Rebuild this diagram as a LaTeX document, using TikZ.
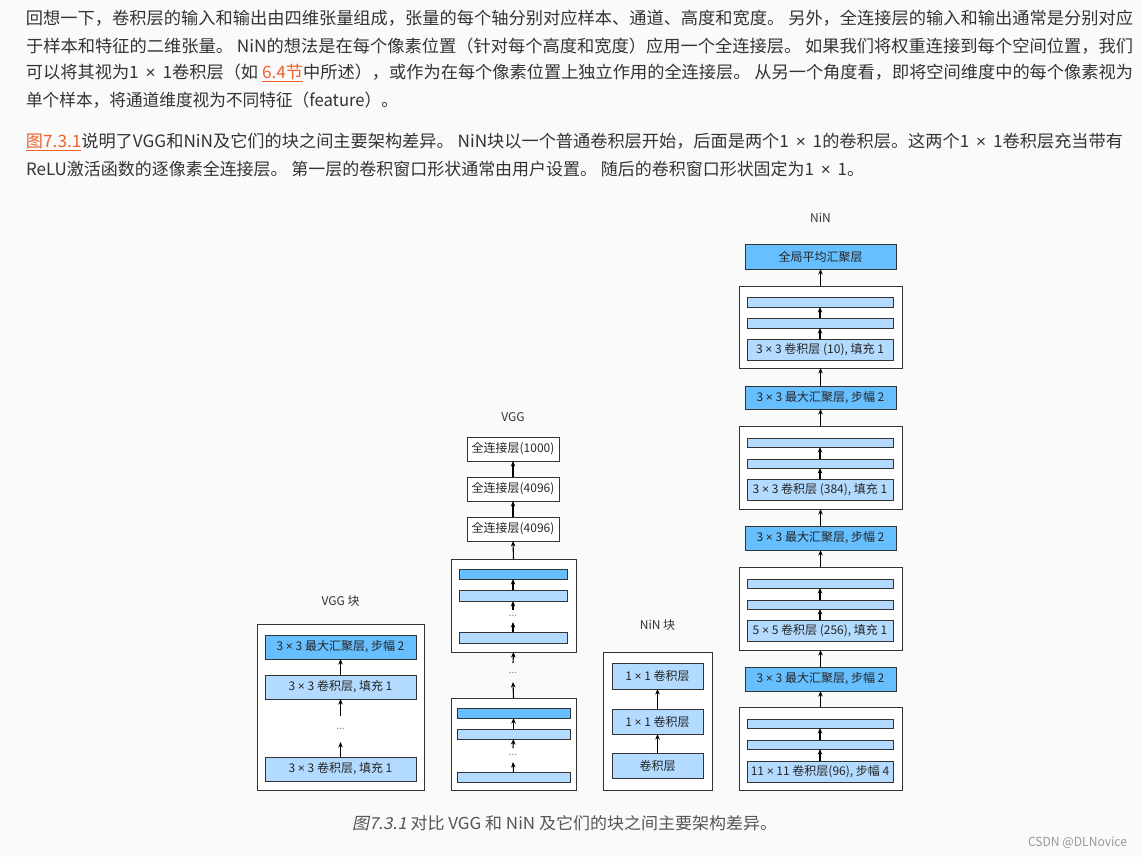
\documentclass[tikz,border=0pt]{standalone}
\usepackage{fontspec}
\setmainfont{Noto Sans CJK SC}
\newfontfamily\cjkit[FakeSlant=0.2]{Noto Sans CJK SC}
\newfontfamily\latf{Liberation Sans}
\newcommand\tm{{\latf ×}}
\newcommand\pt{1\hspace{0.4em}{\latf ×}\hspace{0.4em}1}
\usetikzlibrary{arrows.meta}
\definecolor{bg}{HTML}{FAFAFA}
\definecolor{txt}{HTML}{333333}
\definecolor{capc}{HTML}{555555}
\definecolor{lnk}{HTML}{F0602A}
\definecolor{dkb}{HTML}{66BFFF}
\definecolor{ltb}{HTML}{B3DAFF}
\definecolor{edge}{HTML}{333333}
\newsavebox\jbox
\newcommand\jline[2]{\sbox\jbox{#2}\pgfmathsetmacro\jsx{#1/\the\wd\jbox}\scalebox{\jsx}[1]{\usebox\jbox}}
\newcommand\lk[1]{\textcolor{lnk}{\underline{#1}}}
\newcommand\dgmfont{\fontsize{12}{14}\selectfont}
\newcommand\labfont{\fontsize{12}{14}\selectfont}
\newcommand\ptext{\fontsize{17}{20}\selectfont}
\newcommand\bx[7]{%
 \pgfmathsetmacro\bcx{(#3+#5)/2}\pgfmathsetmacro\bcy{(#4+#6)/2}%
 \pgfmathsetmacro\bw{#5-#3}\pgfmathsetmacro\bh{#6-#4}%
 \node[#2, minimum width=\bw pt, minimum height=\bh pt] (#1) at (\bcx,\bcy) {#7};}
\tikzset{
 every node/.style={inner sep=0pt, outer sep=0pt},
 dk/.style={draw=edge, line width=1pt, fill=dkb, font=\dgmfont, text=black!85},
 lt/.style={draw=edge, line width=1pt, fill=ltb, font=\dgmfont, text=black!85},
 fc/.style={draw=edge, line width=1pt, fill=white, font=\dgmfont, text=black!85},
 outer/.style={draw=edge, line width=1pt, fill=white},
 arr/.style={-{Stealth[length=5.5pt,width=4.5pt]}, line width=1.1pt, draw=black},
 dotn/.style={font=\fontsize{10}{10}\selectfont, text=gray},
 lab/.style={font=\labfont, text=txt},
 para/.style={anchor=west, font=\ptext, text=txt},
}
\begin{document}
\begin{tikzpicture}[x=1pt,y=-1pt]
\fill[bg] (0,0) rectangle (1142,857);
\useasboundingbox (0,0) rectangle (1142,857);
% paragraph 1
\node[para] (p1) at (26,18) {\jline{1107}{回想一下，卷积层的输入和输出由四维张量组成，张量的每个轴分别对应样本、通道、高度和宽度。 另外，全连接层的输入和输出通常是分别对应}};
\node[para] (p2) at (26,46) {\jline{1107}{于样本和特征的二维张量。 NiN的想法是在每个像素位置（针对每个高度和宽度）应用一个全连接层。 如果我们将权重连接到每个空间位置，我们}};
\node[para] (p3) at (26,73) {\jline{1107}{可以将其视为\pt 卷积层（如 \lk{6.4节}中所述），或作为在每个像素位置上独立作用的全连接层。 从另一个角度看，即将空间维度中的每个像素视为}};
\node[para] (p4) at (26,100) {\jline{372}{单个样本，将通道维度视为不同特征（feature）。}};
% paragraph 2
\node[para] (q1) at (26,142) {\jline{1097}{\lk{图7.3.1}说明了VGG和NiN及它们的块之间主要架构差异。 NiN块以一个普通卷积层开始，后面是两个\pt 的卷积层。这两个\pt 卷积层充当带有}};
\node[para] (q2) at (26,169) {\jline{838}{ReLU激活函数的逐像素全连接层。 第一层的卷积窗口形状通常由用户设置。 随后的卷积窗口形状固定为\pt 。}};

% ---------- VGG block ----------
\node[lab] (vlab) at (340.5,601) {VGG 块};
\bx{vo}{outer}{257}{624}{424}{790}{}
\bx{v3}{dk}{265}{635}{416}{659}{3 \tm{} 3 最大汇聚层, 步幅 2}
\bx{v2}{lt}{265}{675}{416}{699}{3 \tm{} 3 卷积层, 填充 1}
\bx{vd}{dotn}{330}{716}{351}{742}{...}
\bx{v1}{lt}{265}{757}{416}{781}{3 \tm{} 3 卷积层, 填充 1}
\draw[arr] (v1.north) -- (vd.south);
\draw[arr] (vd.north) -- (v2.south);
\draw[arr] (v2.north) -- (v3.south);

% ---------- VGG ----------
\node[lab] (glab) at (513,417) {VGG};
\bx{fc1}{fc}{467}{437}{559}{461}{全连接层(1000)}
\bx{fc2}{fc}{467}{477}{559}{501}{全连接层(4096)}
\bx{fc3}{fc}{467}{517}{559}{541}{全连接层(4096)}
\bx{ub}{outer}{451}{559}{576}{652}{}
\bx{ub1}{dk}{459}{569}{567}{579}{}
\bx{ub2}{lt}{459}{590}{567}{601}{}
\bx{ubd}{dotn}{503}{610}{523}{622}{...}
\bx{ub3}{lt}{459}{632}{567}{643}{}
\bx{md}{dotn}{503}{663}{523}{682}{...}
\bx{lb}{outer}{451}{698}{576}{790}{}
\bx{lb1}{dk}{457}{708}{570}{718}{}
\bx{lb2}{lt}{457}{729}{570}{739}{}
\bx{lbd}{dotn}{503}{748}{523}{762}{...}
\bx{lb3}{lt}{457}{772}{570}{782}{}
\draw[arr] (lb3.north) -- (lbd.south);
\draw[arr] (lbd.north) -- (lb2.south);
\draw[arr] (lb2.north) -- (lb1.south);
\draw[arr] (lb.north) -- (md.south);
\draw[arr] (md.north) -- (ub.south);
\draw[arr] (ub3.north) -- (ubd.south);
\draw[arr] (ubd.north) -- (ub2.south);
\draw[arr] (ub2.north) -- (ub1.south);
\draw[arr] (ub.north) -- (fc3.south);
\draw[arr] (fc3.north) -- (fc2.south);
\draw[arr] (fc2.north) -- (fc1.south);

% ---------- NiN block ----------
\node[lab] (nlab) at (657.5,625) {NiN 块};
\bx{no}{outer}{603}{652}{712}{790}{}
\bx{n1}{lt}{612}{663}{703}{689}{1 \tm{} 1 卷积层}
\bx{n2}{lt}{612}{709}{703}{734}{1 \tm{} 1 卷积层}
\bx{n3}{lt}{612}{753}{703}{778}{卷积层}
\draw[arr] (n3.north) -- (n2.south);
\draw[arr] (n2.north) -- (n1.south);

% ---------- NiN ----------
\node[lab] (nnlab) at (820.5,218) {NiN};
\bx{gap}{dk}{745}{244}{896}{269}{全局平均汇聚层}
\bx{b1}{outer}{739}{286}{902}{368}{}
\bx{b1a}{lt}{747}{297}{893}{307}{}
\bx{b1b}{lt}{747}{318}{893}{328}{}
\bx{b1c}{lt}{747}{339}{893}{360}{3 \tm{} 3 卷积层 (10), 填充 1}
\bx{mp1}{dk}{745}{386}{896}{409}{3 \tm{} 3 最大汇聚层, 步幅 2}
\bx{b2}{outer}{739}{426}{902}{509}{}
\bx{b2a}{lt}{747}{438}{893}{447}{}
\bx{b2b}{lt}{747}{459}{893}{468}{}
\bx{b2c}{lt}{747}{479}{893}{500}{3 \tm{} 3 卷积层 (384), 填充 1}
\bx{mp2}{dk}{745}{526}{896}{550}{3 \tm{} 3 最大汇聚层, 步幅 2}
\bx{b3}{outer}{739}{567}{902}{650}{}
\bx{b3a}{lt}{747}{579}{893}{588}{}
\bx{b3b}{lt}{747}{600}{893}{609}{}
\bx{b3c}{lt}{747}{620}{893}{641}{5 \tm{} 5 卷积层 (256), 填充 1}
\bx{mp3}{dk}{745}{667}{896}{691}{3 \tm{} 3 最大汇聚层, 步幅 2}
\bx{b4}{outer}{739}{707}{902}{790}{}
\bx{b4a}{lt}{747}{719}{893}{728}{}
\bx{b4b}{lt}{747}{740}{893}{749}{}
\bx{b4c}{lt}{747}{761}{893}{782}{11 \tm{} 11 卷积层(96), 步幅 4}
\foreach \b in {b1,b2,b3,b4}{
 \draw[arr] (\b c.north) -- (\b b.south);
 \draw[arr] (\b b.north) -- (\b a.south);
}
\draw[arr] (b4.north) -- (mp3.south);
\draw[arr] (mp3.north) -- (b3.south);
\draw[arr] (b3.north) -- (mp2.south);
\draw[arr] (mp2.north) -- (b2.south);
\draw[arr] (b2.north) -- (mp1.south);
\draw[arr] (mp1.north) -- (b1.south);
\draw[arr] (b1.north) -- (gap.south);

% caption
\node[anchor=west, font=\fontsize{16.5}{19}\selectfont, text=capc] (cap) at (352,823) {\jline{425}{{\cjkit 图7.3.1} 对比 VGG 和 NiN 及它们的块之间主要架构差异。}};
\node[anchor=west, font=\fontsize{12.5}{14}\selectfont, text=gray!80] (wm) at (1028,843) {\jline{99}{CSDN @DLNovice}};
\end{tikzpicture}
\end{document}
